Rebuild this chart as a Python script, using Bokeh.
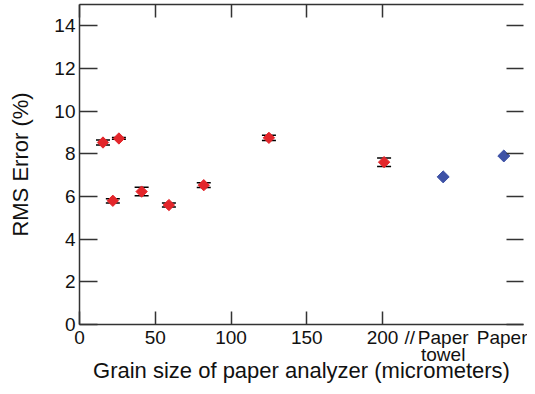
import math
from bokeh.plotting import figure
from bokeh.models import (LinearAxis, FixedTicker, Whisker, ColumnDataSource,
                          Range1d, CustomLabelingPolicy)
from bokeh.embed import file_html
from bokeh.resources import INLINE

# Data
grain_size = [15.5, 22, 26, 41, 59, 82, 125, 201]
rms_error = [8.53, 5.80, 8.72, 6.23, 5.60, 6.53, 8.75, 7.61]
rms_err_bar = [0.12, 0.10, 0.04, 0.20, 0.09, 0.11, 0.12, 0.20]

paper_x = [240, 280]
paper_rms = [6.92, 7.90]
paper_labels = ["Paper\ntowel", "Paper"]

x_ticks = [0, 50, 100, 150, 200]
y_ticks = [0, 2, 4, 6, 8, 10, 12, 14]
break_x = 218

FONT = "Liberation Sans"
AX = "#333333"

p = figure(width=522, height=386, output_backend="svg", toolbar_location=None,
           x_range=Range1d(0, 293), y_range=Range1d(0, 15),
           x_axis_location=None, y_axis_location=None,
           min_border_left=66, min_border_right=0, min_border_top=0, min_border_bottom=0)
p.margin = (0, 0, 0, 5)
p.outline_line_color = None
p.grid.visible = False
p.background_fill_color = "white"

hide_all = CustomLabelingPolicy(code="""
    for (const i of indices) { indices.unset(i) }
    return indices
""")


def base_style(ax):
    ax.axis_line_color = AX
    ax.axis_line_width = 1.5
    ax.major_tick_line_color = AX
    ax.major_tick_line_width = 1.5
    ax.major_tick_out = 0
    ax.minor_tick_line_color = None
    ax.major_label_text_font = FONT
    ax.major_label_text_color = "#111111"
    ax.axis_label_text_font = FONT
    ax.axis_label_text_font_style = "normal"
    ax.axis_label_text_color = "#111111"
    ax.axis_label_text_font_size = "22px"
    ax.major_label_text_font_size = "19px"


def ticks_only(ax, tick_len):
    base_style(ax)
    ax.major_tick_in = tick_len
    ax.major_label_text_font_size = "1px"
    ax.major_label_standoff = 0
    ax.axis_label_standoff = 0
    ax.major_label_policy = hide_all


# bottom 1: axis line + inward ticks (adjacent to the frame)
bottom_ticks = LinearAxis(ticker=FixedTicker(ticks=x_ticks))
ticks_only(bottom_ticks, 13)
p.add_layout(bottom_ticks, "below")

# bottom 2: tick labels incl. break mark and the two paper samples + axis title
label_ticks = x_ticks + [break_x] + paper_x
overrides = {break_x: "//"}
overrides.update({x: t for x, t in zip(paper_x, paper_labels)})
bottom_labels = LinearAxis(ticker=FixedTicker(ticks=label_ticks),
                           axis_label="Grain size of paper analyzer (micrometers)")
base_style(bottom_labels)
bottom_labels.axis_line_color = None
bottom_labels.major_tick_line_color = None
bottom_labels.major_tick_in = 0
bottom_labels.major_label_text_line_height = 0.85
bottom_labels.major_label_standoff = -2
bottom_labels.axis_label_standoff = -10
bottom_labels.major_label_overrides = overrides
p.add_layout(bottom_labels, "below")

left = LinearAxis(ticker=FixedTicker(ticks=y_ticks), axis_label="RMS Error (%)")
base_style(left)
left.major_tick_in = 18
left.major_label_standoff = 4
left.axis_label_standoff = 18
p.add_layout(left, "left")

top = LinearAxis(ticker=FixedTicker(ticks=x_ticks))
ticks_only(top, 13)
p.add_layout(top, "above")

right = LinearAxis(ticker=FixedTicker(ticks=y_ticks))
ticks_only(right, 17)
right.axis_line_color = None
p.add_layout(right, "right")

src = ColumnDataSource(dict(x=grain_size, y=rms_error,
                            lo=[v - e for v, e in zip(rms_error, rms_err_bar)],
                            hi=[v + e for v, e in zip(rms_error, rms_err_bar)]))

p.scatter("x", "y", source=src, marker="square", angle=math.pi / 4, size=8,
          fill_color="#e3262b", line_color="#e3262b")
w = Whisker(base="x", lower="lo", upper="hi", source=src,
            line_color="black", line_width=1.5)
for h in (w.upper_head, w.lower_head):
    h.size = 14
    h.line_color = "black"
    h.line_width = 1.5
p.add_layout(w)

p.scatter(paper_x, paper_rms, marker="square", angle=math.pi / 4, size=8.5,
          fill_color="#3e52a6", line_color="#3e52a6")

open("out.html", "w").write(file_html(p, INLINE))
